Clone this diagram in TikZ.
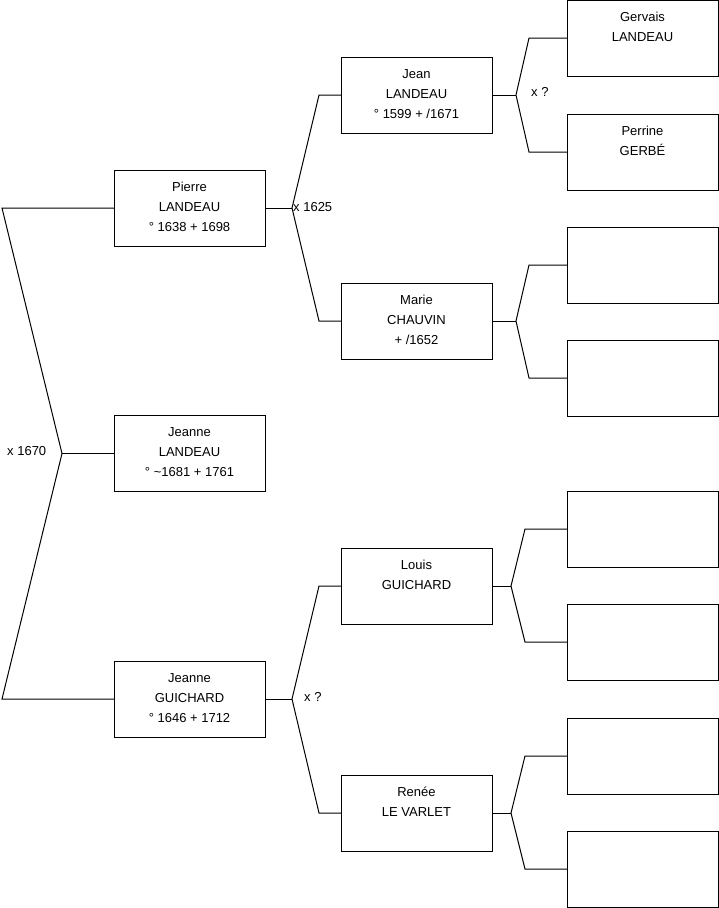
\documentclass[tikz,border=0pt]{standalone}
\usepackage{fontspec}
\setmainfont{Liberation Sans}
\newcommand\ptxt[1]{\parbox[c][76pt][t]{151pt}{\centering\fontsize{13}{20}\selectfont\rule{0pt}{21pt}#1\par}}
\begin{document}
\begin{tikzpicture}[x=1pt,y=-1pt,
  pbox/.style={draw=black,line width=1pt,rectangle,minimum width=151pt,minimum height=76pt,inner sep=0pt,outer sep=0pt,anchor=north west},
  link/.style={draw=black,line width=1pt,line join=miter},
  mlabel/.style={anchor=west,inner sep=0pt,font=\fontsize{13}{15}\selectfont}]
\fill[white] (0,0) rectangle (719,908);
\useasboundingbox (0,0) rectangle (719,908);
% generation 1
\node[pbox] (pierre) at (114,170) {\ptxt{Pierre\\LANDEAU\\° 1638 + 1698}};
\node[pbox] (jeannel) at (114,415.5) {\ptxt{Jeanne\\LANDEAU\\° \textasciitilde1681 + 1761}};
\node[pbox] (jeanneg) at (114,661) {\ptxt{Jeanne\\GUICHARD\\° 1646 + 1712}};
% generation 2
\node[pbox] (jean) at (341,57) {\ptxt{Jean\\LANDEAU\\° 1599 + /1671}};
\node[pbox] (marie) at (341,283) {\ptxt{Marie\\CHAUVIN\\+ /1652}};
\node[pbox] (louis) at (341,548) {\ptxt{Louis\\GUICHARD}};
\node[pbox] (renee) at (341,775) {\ptxt{Renée\\LE VARLET}};
% generation 3
\node[pbox] (gervais) at (567,0) {\ptxt{Gervais\\LANDEAU}};
\node[pbox] (perrine) at (567,114) {\ptxt{Perrine\\GERBÉ}};
\node[pbox] (m1) at (567,227) {};
\node[pbox] (m2) at (567,340) {};
\node[pbox] (l1) at (567,491) {};
\node[pbox] (l2) at (567,604) {};
\node[pbox] (r1) at (567,718) {};
\node[pbox] (r2) at (567,831) {};
% forks
\coordinate (f0) at (62,453.5);
\coordinate (f1) at (292,208);
\coordinate (f2) at (516,95);
\coordinate (f3) at (516,321);
\coordinate (f4) at (292,699);
\coordinate (f5) at (511,586);
\coordinate (f6) at (511,813);
\draw[link] (jeannel.west) -- (f0);
\draw[link] (pierre.west) -- (2,208) -- (f0) -- (2,699) -- (jeanneg.west);
\draw[link] (pierre.east) -- (f1);
\draw[link] (jean.west) -- (319,95) -- (f1) -- (319,321) -- (marie.west);
\draw[link] (jeanneg.east) -- (f4);
\draw[link] (louis.west) -- (319,586) -- (f4) -- (319,813) -- (renee.west);
\draw[link] (jean.east) -- (f2);
\draw[link] (gervais.west) -- (529,38) -- (f2) -- (529,152) -- (perrine.west);
\draw[link] (marie.east) -- (f3);
\draw[link] (m1.west) -- (529,265) -- (f3) -- (529,378) -- (m2.west);
\draw[link] (louis.east) -- (f5);
\draw[link] (l1.west) -- (525,529) -- (f5) -- (525,642) -- (l2.west);
\draw[link] (renee.east) -- (f6);
\draw[link] (r1.west) -- (525,756) -- (f6) -- (525,869) -- (r2.west);
% marriage labels
\node[mlabel] (x0) at (7,451) {x 1670};
\node[mlabel] (x1) at (293,207) {x 1625};
\node[mlabel] (x2) at (531,92) {x ?};
\node[mlabel] (x4) at (304,697) {x ?};
\end{tikzpicture}
\end{document}
